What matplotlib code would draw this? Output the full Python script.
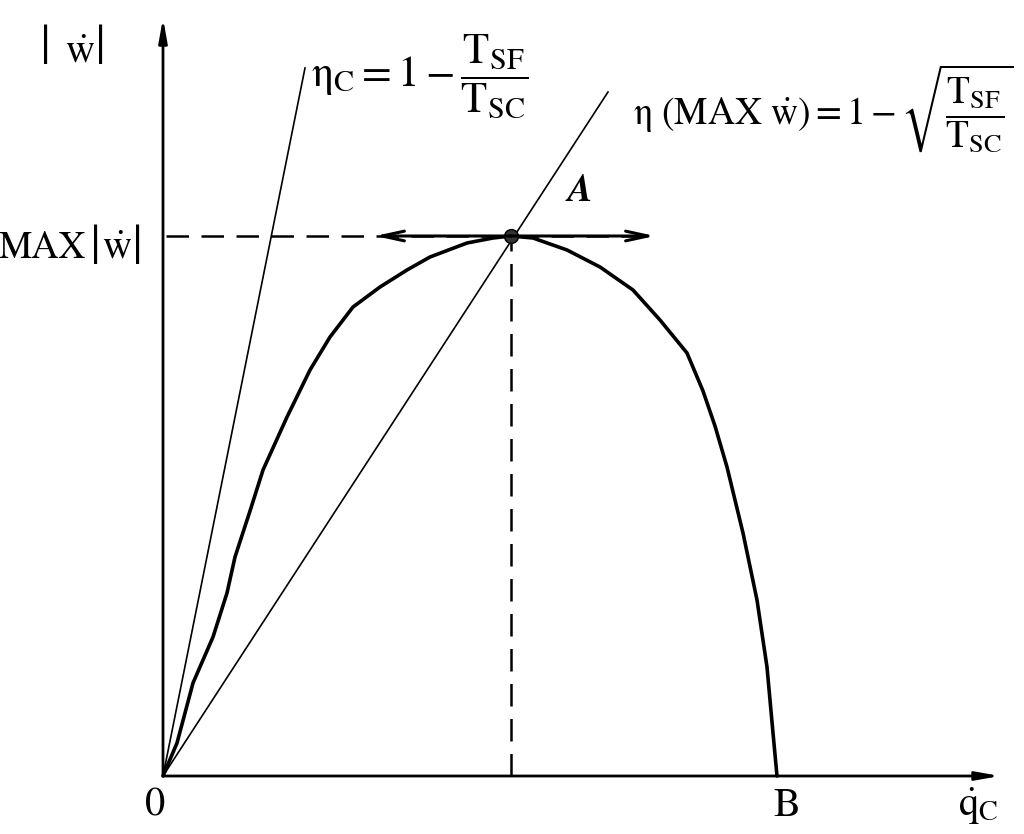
import matplotlib
matplotlib.use("Agg")
import matplotlib.pyplot as plt

plt.rcParams['mathtext.fontset'] = 'stix'
plt.rcParams['font.family'] = ['STIXGeneral', 'DejaVu Serif']

# Power curve |w| vs q_C (schematic units)
curve_x = [0, 14, 30, 50, 64, 72, 87, 100, 124, 147, 167, 190, 217, 244, 267, 304, 330, 348,
           370, 404, 437, 470, 497, 524, 540, 552, 564, 580, 594, 604, 610, 614]
curve_y = [0, 33, 93, 139, 183, 219, 265, 306, 359, 406, 439, 469, 489, 506, 519, 533, 538, 540,
           538, 526, 509, 486, 456, 423, 385, 350, 309, 243, 176, 109, 43, 0]

peak_x, peak_y = 348, 540          # point A (MAX |w|)
B_x = 614                          # zero-power point B
carnot_end = (142, 708)            # eta_C line end
maxw_end = (445, 684)              # eta(MAX w) line end
x_axis_end, y_axis_end = 837, 758
arrow_left, arrow_right = 212, 492
hdash_start = 3

fig = plt.figure(figsize=(10.24, 8.34), dpi=100)
ax = fig.add_axes([0, 0, 1, 1])
ax.set_xlim(-163, 861)
ax.set_ylim(-58, 776)
ax.axis('off')

k = 'black'
# axes with arrows
for end in [(x_axis_end, 0), (0, y_axis_end)]:
    ax.annotate('', xy=end, xytext=(0, 0),
                arrowprops=dict(arrowstyle='-|>,head_length=1.4,head_width=0.25', lw=2.0,
                                color=k, shrinkA=0, shrinkB=0))

# efficiency lines
ax.plot([0, carnot_end[0]], [0, carnot_end[1]], color=k, lw=1.2)
ax.plot([0, maxw_end[0]], [0, maxw_end[1]], color=k, lw=1.2)

# dashed guides
ax.plot([hdash_start, arrow_right], [peak_y, peak_y], color=k, lw=1.8, dashes=(9, 5))
ax.plot([peak_x, peak_x], [0, peak_y], color=k, lw=1.8, dashes=(9, 5))

# double arrow at A
for tip in [arrow_left, arrow_right]:
    ax.annotate('', xy=(tip, peak_y), xytext=(peak_x, peak_y),
                arrowprops=dict(arrowstyle='->,head_length=1.6,head_width=0.35', lw=2.2,
                                color=k, shrinkA=0, shrinkB=0))

# curve
ax.plot(curve_x, curve_y, color=k, lw=2.6, solid_capstyle='round', solid_joinstyle='round')
ax.plot([peak_x], [peak_y], 'o', color='#333333', ms=10, mec=k)

fs = 29
bar_kw = dict(fontsize=28, ha='center', va='center', family='DejaVu Serif')
# |w| axis label (tall bars)
ax.text(-83, 714, r'$\dot{\mathrm{w}}$', fontsize=fs, ha='center', va='baseline')
for bx in (-117, -62):
    ax.text(bx, 732, '|', **bar_kw)
# MAX |w|
ax.text(-77, 518, 'MAX', fontsize=27, ha='right', va='baseline')
ax.text(-46, 518, r'$\dot{\mathrm{w}}$', fontsize=fs, ha='center', va='baseline')
for bx in (-67, -25):
    ax.text(bx, 532, '|', **bar_kw)

ax.text(148, 700, r'$\mathrm{η}_{\mathrm{C}} = 1 - \dfrac{\mathrm{T_{SF}}}{\mathrm{T_{SC}}}$',
        fontsize=31, ha='left', va='center')
ax.text(470, 668, r'$\mathrm{η}\ \left(\mathrm{MAX}\ \dot{\mathrm{w}}\right) = 1 - \sqrt{\dfrac{\mathrm{T_{SF}}}{\mathrm{T_{SC}}}}$',
        fontsize=27, ha='left', va='center')
ax.text(415, 584, r'$\boldsymbol{A}$', fontsize=27, ha='center', va='center')
ax.text(-8, -30, '0', fontsize=fs, ha='center', va='center')
ax.text(B_x + 10, -30, 'B', fontsize=fs, ha='center', va='center')
ax.text(815, -30, r'$\dot{\mathrm{q}}_{\mathrm{C}}$', fontsize=fs, ha='center', va='center')

fig.savefig('out.png', dpi=100, facecolor='white')
